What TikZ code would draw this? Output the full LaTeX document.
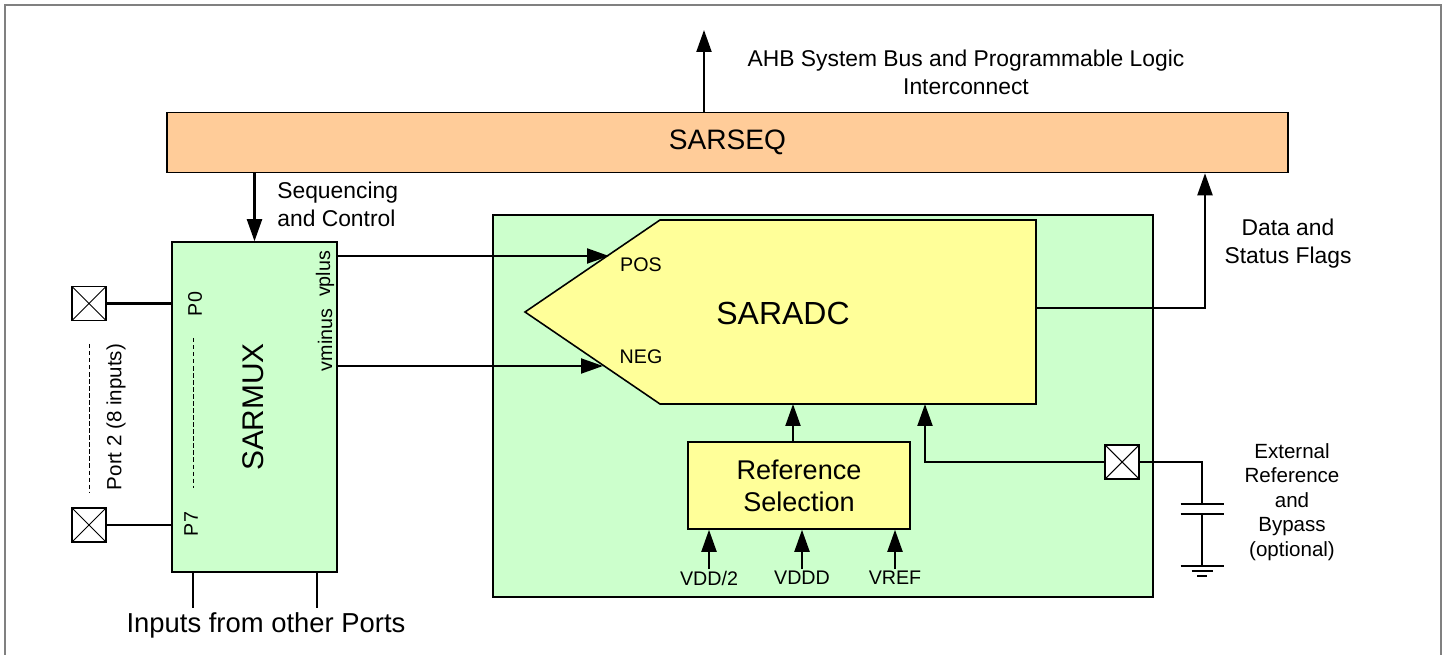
\documentclass[tikz,border=0pt]{standalone}
\usepackage{fontspec}
\setmainfont{Liberation Sans}
\usepackage{xcolor}
\usetikzlibrary{arrows.meta,positioning,calc}

\definecolor{seqorange}{RGB}{255,204,153}
\definecolor{muxgreen}{RGB}{204,255,204}
\definecolor{adcyellow}{RGB}{255,255,153}

\tikzset{
    blk/.style={draw, line width=0.9pt, inner sep=0pt},
    sig/.style={line width=1.2pt, -{Triangle[length=0.44cm,width=0.3cm]}},
    wire/.style={line width=1.2pt},
    pad/.style={draw, line width=0.9pt, fill=white, minimum size=0.68cm, inner sep=0pt,
        path picture={\draw[line width=0.6pt]
            (path picture bounding box.north west) -- (path picture bounding box.south east)
            (path picture bounding box.south west) -- (path picture bounding box.north east);}},
    small/.style={font=\fontsize{11.2}{13}\selectfont, inner sep=1pt},
    note/.style={font=\fontsize{13}{15.9}\selectfont, align=center, inner sep=0pt},
}

\begin{document}
\begin{tikzpicture}[x=0.02cm, y=-0.02cm]
    \useasboundingbox (0,0) rectangle (1448,655);
    % Outer frame
    \draw[gray, line width=0.8pt] (5,655) -- (5,5) -- (1441,5) -- (1441,655);

    % Sequencer
    \node (seq) [blk, fill=seqorange, minimum width=22.42cm, minimum height=1.2cm,
        font=\fontsize{16}{19}\selectfont] at (727.5,142.5) {SARSEQ};
    \coordinate (bus) at (704,30);
    \draw[sig] (seq.north -| bus) -- (bus);
    \node[note] (ahb) at (966,72) {AHB System Bus and Programmable Logic\\Interconnect};

    % Multiplexer
    \node (mux) [blk, fill=muxgreen, minimum width=3.3cm, minimum height=6.6cm] at (254.5,407) {};
    \node[rotate=90, font=\fontsize{17}{20}\selectfont] (muxlbl) at (253,407) {SARMUX};
    \node[small, rotate=90] (p0) at (195,304) {P0};
    \node[small, rotate=90] (p7) at (191,524) {P7};
    \node[small, rotate=90] (vplus) at (325,274) {vplus};
    \node[small, rotate=90] (vminus) at (325,340) {vminus};
    \draw[line width=0.5pt, dash pattern=on 2.5pt off 1.5pt] (193,338) -- (193,488);
    \draw[sig] (seq.south -| mux.north) -- (mux.north);
    \node[note, anchor=west, align=left] (seqlbl) at (277,204) {Sequencing\\and Control};

    % Port 2 pins
    \node[pad] (pad0) at (89,303.5) {};
    \node[pad] (pad7) at (89,525) {};
    \draw[wire] (pad0.east) -- (pad0.east -| mux.west);
    \draw[wire] (pad7.east) -- (pad7.east -| mux.west);
    \draw[line width=0.5pt, dash pattern=on 2.5pt off 1.5pt] (89,344) -- (89,493);
    \node[rotate=90, font=\fontsize{11.7}{14}\selectfont] (port) at (116,417) {Port 2 (8 inputs)};

    % Other ports
    \coordinate (oth1) at (193,608);
    \coordinate (oth2) at (317,608);
    \draw[wire] (oth1 |- mux.south) -- (oth1);
    \draw[wire] (oth2 |- mux.south) -- (oth2);
    \node[font=\fontsize{15.6}{18}\selectfont] (othlbl) at (266,625) {Inputs from other Ports};

    % ADC block
    \node (adcbox) [blk, fill=muxgreen, minimum width=13.2cm, minimum height=7.64cm] at (823,406) {};
    \draw[line width=0.9pt, fill=adcyellow] (525,312) -- (660,220) -- (1036,220) -- (1036,404) -- (660,404) -- cycle;
    \node[font=\fontsize{18.2}{21}\selectfont] (adc) at (783,313) {SARADC};
    \node[small] (poslbl) at (641,265) {POS};
    \node[small] (neglbl) at (641,357) {NEG};
    \coordinate (pos) at (609,256);
    \coordinate (neg) at (603,366);
    \draw[sig] (mux.east |- pos) -- (pos);
    \draw[sig] (mux.east |- neg) -- (neg);

    % Data out
    \coordinate (dout) at (1036,308);
    \coordinate (flag) at (1205,308);
    \draw[sig] (dout) -- (flag) -- (flag |- seq.south);
    \node[note] (flaglbl) at (1288,243.5) {Data and\\Status Flags};

    % Reference selection
    \node (ref) [blk, fill=adcyellow, minimum width=4.44cm, minimum height=1.74cm, align=center,
        font=\fontsize{15.4}{18.2}\selectfont] at (799,485.5) {Reference\\Selection};
    \coordinate (adcin) at (793,404);
    \draw[sig] (ref.north -| adcin) -- (adcin);
    \node[small, anchor=north] (vddh) at (709,569) {VDD/2};
    \node[small, anchor=north] (vddd) at (802,569) {VDDD};
    \node[small, anchor=north] (vref) at (895,569) {VREF};
    \foreach \v in {vddh, vddd, vref} {
        \draw[sig] (\v.north) -- (\v.north |- ref.south);
    }

    % External reference and bypass
    \node[pad] (padx) at (1122,462) {};
    \coordinate (refin) at (925,404);
    \draw[sig] (padx.west) -| (refin);
    \coordinate (capa) at (1202,504);
    \coordinate (capb) at (1202,514);
    \coordinate (gnd) at (1202,566);
    \draw[wire] (padx.east) -| (capa);
    \draw[wire] ($(capa)+(-21.5,0)$) -- ++(43,0);
    \draw[wire] ($(capb)+(-21.5,0)$) -- ++(43,0);
    \draw[wire] (capb) -- (gnd);
    \draw[line width=0.9pt] ($(gnd)+(-21.5,0)$) -- ++(43,0)
        ($(gnd)+(-10.5,5)$) -- ++(21,0) ($(gnd)+(-5,10)$) -- ++(10,0);
    \node[font=\fontsize{11.7}{13.9}\selectfont, align=center] (extlbl) at (1292,502)
        {External\\Reference\\and\\Bypass\\(optional)};
\end{tikzpicture}
\end{document}
